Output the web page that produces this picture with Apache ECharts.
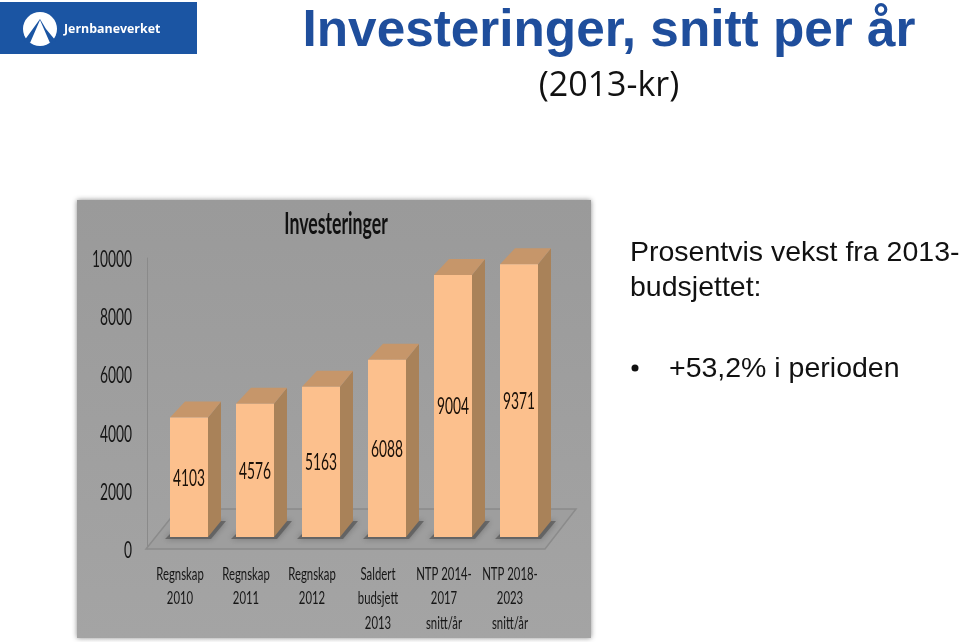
<!DOCTYPE html>
<html><head><meta charset="utf-8">
<style>html,body{margin:0;padding:0;background:#fff}#c{width:960px;height:642px}</style>
<script src="https://cdn.jsdelivr.net/npm/echarts@6/dist/echarts.min.js"></script></head>
<body><div id="c"></div>
<script>
const categories = ['Regnskap\n2010','Regnskap\n2011','Regnskap\n2012','Saldert\nbudsjett\n2013','NTP 2014-\n2017\nsnitt/år','NTP 2018-\n2023\nsnitt/år'];
const investeringer = [4103,4576,5163,6088,9004,9371];
const yTicks = [0,2000,4000,6000,8000,10000];
const cond = 'Lato,"Open Sans",sans-serif';
const helv = '"Liberation Sans",Arial,sans-serif';
const chart = echarts.init(document.getElementById('c'),null,{renderer:'canvas'});
const DX=13, DY=16, OX=9, OY=12, BW=38;
function renderBar(params, api){
  const cs=params.coordSys;
  const p=api.coord([api.value(0),api.value(1)]);
  const b=api.coord([api.value(0),0]);
  const l=p[0]+OX-BW/2, r=l+BW, t=p[1]-OY, y0=b[1]-OY;
  const kids=[];
  if(params.dataIndex===0){
    const fy=cs.y+cs.height, fx=cs.x, fw=cs.width;
    kids.push({type:'polygon',shape:{points:[[fx-1,fy],[fx+fw+2,fy],[fx+fw+33,fy-40],[fx+31,fy-40]]},
      style:{fill:'#9e9e9e',stroke:'#8b8b8b',lineWidth:1.5}});
  }
  kids.push({type:'polygon',shape:{points:[[l-5,y0+2],[r+3,y0+2],[r+18,y0-16],[r+9,y0-16],[r,y0-3],[l,y0-3]]},
    style:{fill:'rgba(85,85,85,0.7)',shadowBlur:6,shadowColor:'rgba(70,70,70,0.7)'}});
  kids.push({type:'polygon',shape:{points:[[r,t],[r+DX,t-DY],[r+DX,y0-DY],[r,y0]]},style:{fill:'#a98259'}});
  kids.push({type:'polygon',shape:{points:[[l,t],[l+DX+2,t-DY],[r+DX,t-DY],[r,t]]},style:{fill:'#c6966a'}});
  kids.push({type:'rect',shape:{x:l,y:t,width:BW,height:y0-t},style:{fill:'#fcc08d'}});
  kids.push({type:'text',x:l+BW/2,y:(t+y0)/2+1,scaleX:0.6,style:{text:String(api.value(1)),align:'center',verticalAlign:'middle',
    font:'23px '+cond,fill:'#1a1008'}});
  const lines=categories[api.value(0)].split('\n');
  lines.forEach((s,i)=>kids.push({type:'text',x:p[0],y:574+i*24.5,scaleX:0.63,
    style:{text:s,align:'center',verticalAlign:'middle',font:'18px '+cond,fill:'#161616'}}));
  return {type:'group',children:kids};
}
function renderTick(params, api){
  const p=api.coord([0,api.value(0)]);
  return {type:'text',x:132,y:p[1]+1.5,scaleX:0.6,style:{text:String(api.value(0)),align:'right',verticalAlign:'middle',
    font:'23px '+cond,fill:'#161616'}};
}
chart.setOption({
  animation:false,
  backgroundColor:'#fff',
  grid:{left:147,top:258,width:396,height:291,containLabel:false},
  xAxis:{type:'category',data:categories,axisLine:{show:false},axisTick:{show:false},axisLabel:{show:false}},
  yAxis:{type:'value',min:0,max:10000,interval:2000,splitLine:{show:false},axisTick:{show:false},
    axisLine:{show:true,lineStyle:{color:'#8a8a8a',width:1}},axisLabel:{show:false}},
  series:[
    {type:'custom',name:'Investeringer',renderItem:renderBar,encode:{x:0,y:1},clip:false,
      data:investeringer.map((v,i)=>[i,v]),z:5},
    {type:'custom',name:'ticks',renderItem:renderTick,encode:{y:0},clip:false,silent:true,
      data:yTicks.map(v=>[v]),z:5}
  ],
  graphic:[
    {type:'rect',z:-20,shape:{x:77,y:200,width:514,height:438},
      style:{fill:{type:'linear',x:0,y:0,x2:0,y2:1,colorStops:[{offset:0,color:'#9a9a9a'},{offset:1,color:'#a4a4a4'}]},
      shadowBlur:5,shadowColor:'rgba(90,90,90,0.7)'}},
    {type:'text',z:10,x:336,y:224,scaleX:0.59,style:{text:'Investeringer',align:'center',verticalAlign:'middle',font:'bold 30px '+cond,fill:'#111'}},
    {type:'rect',z:10,shape:{x:0,y:2,width:197,height:52},style:{fill:'#1b55a3'}},
    {type:'circle',z:11,shape:{cx:40,cy:29,r:17},style:{fill:'#fff'}},
    {type:'polygon',z:12,shape:{points:[[40,19],[46,29],[56,41],[50,43],[40,20],[30,43],[24,41]]},style:{fill:'#1b55a3'}},
    {type:'text',z:11,x:64,y:29,style:{text:'Jernbaneverket',verticalAlign:'middle',font:'bold 12.4px "Open Sans",sans-serif',fill:'#fff'}},
    {type:'text',z:10,x:609,y:32,style:{text:'Investeringer, snitt per år',align:'center',verticalAlign:'middle',font:'bold 51.3px '+helv,fill:'#1f4e9c'}},
    {type:'text',z:10,x:609,y:86,style:{text:'(2013-kr)',align:'center',verticalAlign:'middle',font:'34px "Open Sans",sans-serif',fill:'#111'}},
    {type:'text',z:10,x:630,y:253,style:{text:'Prosentvis vekst fra 2013-',verticalAlign:'middle',font:'28.5px '+helv,fill:'#111'}},
    {type:'text',z:10,x:630,y:288,style:{text:'budsjettet:',verticalAlign:'middle',font:'28.5px '+helv,fill:'#111'}},
    {type:'circle',z:10,shape:{cx:635,cy:368,r:3.5},style:{fill:'#111'}},
    {type:'text',z:10,x:669,y:369,style:{text:'+53,2% i perioden',verticalAlign:'middle',font:'28.5px '+helv,fill:'#111'}}
  ]
});
</script></body></html>
